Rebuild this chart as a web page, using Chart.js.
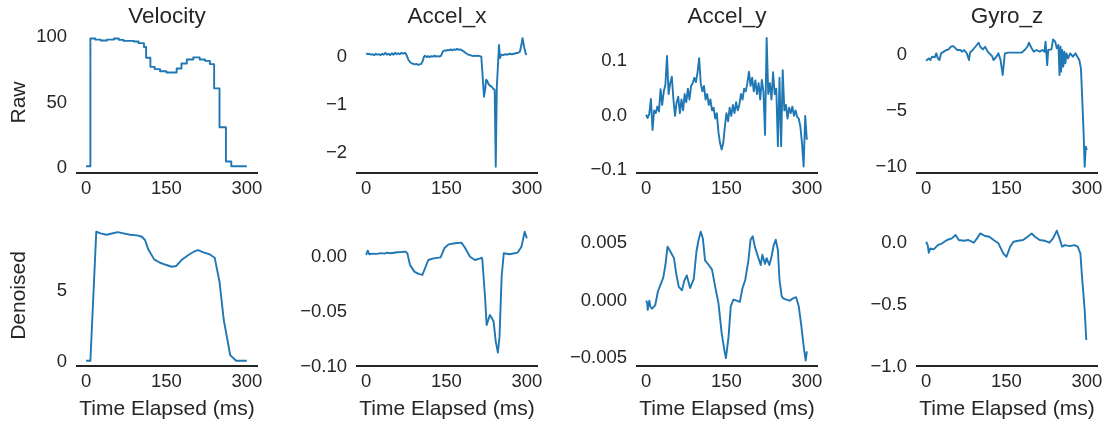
<!DOCTYPE html>
<html><head><meta charset="utf-8">
<script src="https://cdn.jsdelivr.net/npm/chart.js@4.4.0/dist/chart.umd.min.js"></script>
<style>
html,body{margin:0;padding:0;background:#fff;overflow:hidden;width:1110px;height:426px;position:relative;}
canvas{position:absolute;}
</style></head><body>
<script>
// ---- text ----
const columnTitles = ['Velocity', 'Accel_x', 'Accel_y', 'Gyro_z'];
const rowLabels = ['Raw', 'Denoised'];
const xAxisLabel = 'Time Elapsed (ms)';

// ---- x ticks (shared) ----
const xTickValues = [0, 150, 300];
const xTickLabels = ['0', '150', '300'];

// ---- y ticks per panel ----
const velocityRawTicks = [0, 50, 100];
const velocityRawTickLabels = ['0', '50', '100'];
const accelXRawTicks = [-2, -1, 0];
const accelXRawTickLabels = ['\u22122', '\u22121', '0'];
const accelYRawTicks = [-0.1, 0, 0.1];
const accelYRawTickLabels = ['\u22120.1', '0.0', '0.1'];
const gyroRawTicks = [-10, -5, 0];
const gyroRawTickLabels = ['\u221210', '\u22125', '0'];
const velocityDenoisedTicks = [0, 5];
const velocityDenoisedTickLabels = ['0', '5'];
const accelXDenoisedTicks = [-0.10, -0.05, 0];
const accelXDenoisedTickLabels = ['\u22120.10', '\u22120.05', '0.00'];
const accelYDenoisedTicks = [-0.005, 0, 0.005];
const accelYDenoisedTickLabels = ['\u22120.005', '0.000', '0.005'];
const gyroDenoisedTicks = [-1, -0.5, 0];
const gyroDenoisedTickLabels = ['\u22121.0', '\u22120.5', '0.0'];

// ---- series ----
const velocityRawTime = [0, 8, 17, 27, 39, 52, 61, 70, 89, 98, 108, 112, 120, 128, 138, 150, 169, 178, 188, 200, 212, 222, 231, 239, 249, 261, 271, 300];
const velocityRawValues = [1.5, 99, 98.2, 97.5, 98.2, 99, 98, 97.2, 96.8, 95.5, 92.6, 84.3, 77.4, 75.7, 74.1, 73.1, 76.2, 80, 83, 84.6, 83, 82, 79.5, 61, 31.3, 5.2, 1.5, 1.5];

const velocityDenoisedTime = [0, 8, 19, 27, 38, 48, 59, 70, 82, 95, 104, 110, 116, 127, 138, 150, 160, 168, 178, 191, 201, 209, 219, 231, 240, 249, 257, 269, 280, 300];
const velocityDenoisedValues = [0.07, 0.07, 9.2, 9.08, 8.98, 9.07, 9.17, 9.08, 8.98, 8.94, 8.84, 8.61, 7.95, 7.24, 7.0, 6.84, 6.72, 6.77, 7.19, 7.55, 7.78, 7.9, 7.74, 7.59, 7.36, 5.66, 2.95, 0.47, 0.07, 0.07];

const accelXRawTime = [0,3,6,9,12,15,18,21,24,27,30,33,36,39,42,45,48,51,54,57,60,63,66,69,73,76,79,82,85,88,91,94,97,100,103,106,108,110,113,116,119,122,125,128,131,134,137,140,143,146,149,152,155,158,161,164,167,170,173,176,179,182,185,188,191,194,197,200,203,206,209,212,215,217,220,222,224,226,228,231,234,237,240,242,244,246,248,250,252,256,260,264,268,272,276,280,284,287,290,292,295,298,300];
const accelXRawValues = [0.07,0.05,0.06,0.04,0.05,0.03,0.06,0.04,0.05,0.03,0.06,0.04,0.08,0.04,0.06,0.03,0.07,0.04,0.08,0.05,0.07,0.05,0.08,0.06,0.08,0.02,-0.07,-0.11,-0.14,-0.15,-0.16,-0.15,-0.17,-0.16,-0.15,-0.08,0.0,0.02,-0.01,0.01,-0.01,0.01,0.0,0.02,0.0,0.01,0.0,0.02,0.1,0.13,0.12,0.14,0.13,0.15,0.13,0.15,0.14,0.16,0.14,0.15,0.13,0.11,0.08,0.06,0.04,0.03,0.02,0.01,0.02,0.01,0.02,0.01,0.0,-0.31,-0.83,-0.7,-0.48,-0.5,-0.56,-0.6,-0.62,-0.66,-0.69,-2.28,-0.62,-0.21,0.24,-0.03,0.04,0.03,0.05,0.04,0.06,0.05,0.06,0.07,0.08,0.10,0.25,0.38,0.2,0.06,0.04];

const accelXDenoisedTime = [0,3,6,12,20,28,35,39,45,52,58,66,73,77,82,90,98,105,110,116,126,139,146,154,166,178,184,194,203,213,216,217,222,225,228,231,235,238,242,246,249,253,257,268,283,290,296,300];
const accelXDenoisedValues = [0.0015,0.0055,0.0022,0.0028,0.0025,0.0032,0.0028,0.0037,0.0031,0.0036,0.0040,0.0042,0.0046,0.0031,-0.0075,-0.0136,-0.0157,-0.0166,-0.0106,-0.0030,-0.0015,-0.0006,0.0076,0.0112,0.0122,0.0128,0.0085,0.0,-0.003,-0.0015,-0.0009,-0.003,-0.0364,-0.0621,-0.0575,-0.0530,-0.0560,-0.0590,-0.0772,-0.0872,-0.0727,-0.0182,0.0031,0.0022,0.0037,0.0091,0.0228,0.0167];

const accelYRawTime = [0,3,6,9,12,15,18,21,24,27,30,33,36,39,42,45,48,51,54,57,60,63,66,69,72,75,78,81,84,87,90,93,96,99,102,105,108,111,114,117,120,123,126,129,132,135,138,141,144,147,150,153,156,159,162,165,168,171,174,177,180,183,186,189,192,195,198,201,204,207,210,213,216,219,222,225,228,231,234,237,240,243,246,249,252,255,258,261,264,267,270,273,276,279,282,285,288,291,294,297,300];
const accelYRawValues = [0.002,-0.004,0.004,0.031,-0.026,0.010,0.005,0.017,0.008,0.049,
  0.020,0.045,0.057,0.110,0.040,0.060,0.072,0.030,0.000,0.025,
  0.035,0.005,0.030,0.010,0.040,0.025,0.050,0.030,0.055,0.060,
  0.070,0.062,0.080,0.106,0.060,0.045,0.055,0.030,0.040,0.020,
  0.030,0.010,0.015,-0.005,0.005,-0.030,-0.050,-0.062,-0.050,-0.020,
  0.005,-0.010,0.015,0.000,0.020,0.005,0.025,0.010,0.020,0.040,
  0.030,0.050,0.045,0.060,0.081,0.055,0.070,0.045,0.065,0.040,
  0.060,0.030,0.066,0.045,-0.035,0.143,0.040,0.060,0.030,0.080,
  0.040,0.050,-0.056,0.070,-0.056,0.084,0.010,0.020,-0.005,0.015,
  0.005,0.017,0.000,0.010,-0.002,-0.005,-0.020,-0.050,-0.093,0.000,
  -0.044];

const accelYDenoisedTime = [0,2,3,6,8,11,17,22,27,32,36,40,45,52,56,61,67,71,76,82,89,94,98,102,106,110,117,123,129,135,141,146,149,154,158,163,169,175,180,185,191,195,199,203,209,214,217,222,225,230,234,238,242,246,249,253,256,262,268,274,280,285,290,295,298,300];
const accelYDenoisedValues = [0,-0.0002,-0.0008,0,-0.0005,-0.0007,-0.0004,0.0008,0.0014,0.0020,0.0031,0.0047,0.0043,0.0037,0.0024,0.0012,0.0009,0.0017,0.0022,0.0011,0.0019,0.0043,0.0053,0.0060,0.0054,0.0035,0.0031,0.0027,0.0012,-0.0002,-0.0028,-0.0043,-0.0050,-0.0031,-0.0005,0.0001,0,-0.0001,0.0011,0.0018,0.0035,0.0053,0.0056,0.0047,0.0038,0.0031,0.0040,0.0032,0.0037,0.0031,0.0038,0.0048,0.0053,0.0044,0.0018,0.0004,0.0002,0.0001,0,0.0002,0.0003,-0.0005,-0.0023,-0.0043,-0.0052,-0.0044];

const gyroRawTime = [0,5,8,11,16,19,22,25,28,33,38,42,46,51,55,58,64,67,71,76,80,82,87,92,98,101,106,110,115,118,123,126,131,135,139,143,147,153,178,184,189,192,197,201,206,212,217,221,223,226,228,234,237,241,244,247,249,251,252,254,256,258,260,262,265,269,274,279,283,286,289,291,294,296,298,300];
const gyroRawValues = [-0.51,-0.30,-0.45,-0.15,-0.21,0.15,-0.30,-0.45,0.15,0.30,0.45,0.51,0.74,0.80,0.60,0.45,0.45,0.30,0.45,0.15,-0.45,0.21,0.45,0.74,1.1,0.74,0.51,0.74,0.30,0.15,-0.09,-0.45,-0.15,0.15,-0.45,-1.79,0.15,0.21,0.21,0.45,0.74,1.1,0.60,0.30,0.45,0.30,0.45,0.30,1.19,-0.90,0.45,0.51,1.40,1.19,0.60,0.90,-1.79,0.74,-1.49,0.45,-1.04,0.30,-0.75,0.15,-0.30,0.15,-0.15,0.15,-0.21,-0.45,-1.19,-3.4,-7.0,-10.0,-8.2,-8.5];

const gyroDenoisedTime = [0,3,5,8,14,22,30,39,48,55,61,70,79,89,95,101,110,118,126,135,144,150,157,163,172,181,188,197,203,212,221,230,237,244,249,254,259,268,277,283,288,291,296,299];
const gyroDenoisedValues = [0.013,-0.014,-0.076,-0.041,-0.049,-0.014,0,0.027,0.040,0.067,0.027,0.021,0.027,0.005,0.040,0.080,0.059,0.053,0.027,0,-0.081,-0.108,-0.027,0.013,0.021,0.027,0.048,0.080,0.053,0.027,0.021,0.005,0.040,0.102,0.040,-0.027,-0.014,-0.022,-0.014,-0.027,-0.081,-0.269,-0.538,-0.780];

// ---- styling / layout ----
const FONT = "'Liberation Sans', Arial, Helvetica, sans-serif";
const INK = '#262626';
const LINE = '#1f77b4';
const PLOT_W = 180, PLOT_H = 141;
const LEFT_SPACE = 77, TOP_SPACE = 32;
const X_MIN = -17, X_MAX = 319;

const panels = [
  {row:0, col:0, t:velocityRawTime, v:velocityRawValues, ticks:velocityRawTicks, labels:velocityRawTickLabels, ymin:-3.6, ymax:104.0, stepped:true},
  {row:0, col:1, t:accelXRawTime, v:accelXRawValues, ticks:accelXRawTicks, labels:accelXRawTickLabels, ymin:-2.41, ymax:0.51},
  {row:0, col:2, t:accelYRawTime, v:accelYRawValues, ticks:accelYRawTicks, labels:accelYRawTickLabels, ymin:-0.105, ymax:0.154},
  {row:0, col:3, t:gyroRawTime, v:gyroRawValues, ticks:gyroRawTicks, labels:gyroRawTickLabels, ymin:-10.56, ymax:2.06},
  {row:1, col:0, t:velocityDenoisedTime, v:velocityDenoisedValues, ticks:velocityDenoisedTicks, labels:velocityDenoisedTickLabels, ymin:-0.30, ymax:9.67},
  {row:1, col:1, t:accelXDenoisedTime, v:accelXDenoisedValues, ticks:accelXDenoisedTicks, labels:accelXDenoisedTickLabels, ymin:-0.0994, ymax:0.0288},
  {row:1, col:2, t:accelYDenoisedTime, v:accelYDenoisedValues, ticks:accelYDenoisedTicks, labels:accelYDenoisedTickLabels, ymin:-0.00568, ymax:0.00658},
  {row:1, col:3, t:gyroDenoisedTime, v:gyroDenoisedValues, ticks:gyroDenoisedTicks, labels:gyroDenoisedTickLabels, ymin:-0.99, ymax:0.148}
];

const panelText = {
  id: 'panelText',
  afterDraw(chart, args, opts) {
    const ctx = chart.ctx, a = chart.chartArea;
    ctx.save();
    ctx.fillStyle = INK;
    ctx.textBaseline = 'alphabetic';
    if (opts.title) {
      ctx.font = '22.5px ' + FONT;
      ctx.textAlign = 'center';
      ctx.fillText(opts.title, (a.left + a.right) / 2, a.top - 9);
    }
    if (opts.xlabel) {
      ctx.font = '21px ' + FONT;
      ctx.textAlign = 'center';
      ctx.fillText(opts.xlabel, (a.left + a.right) / 2, a.bottom + 49);
    }
    if (opts.ylabel) {
      ctx.font = '21px ' + FONT;
      ctx.textAlign = 'center';
      ctx.translate(a.left - 52, (a.top + a.bottom) / 2);
      ctx.rotate(-Math.PI / 2);
      ctx.fillText(opts.ylabel, 0, 0);
    }
    ctx.restore();
  }
};

function makePanel(p) {
  if (p.t.length !== p.v.length) throw new Error('length mismatch in panel ' + p.row + ',' + p.col + ': ' + p.t.length + ' vs ' + p.v.length);
  const plotLeft = 77 + 280 * p.col;
  const plotTop = p.row === 0 ? 32 : 225;
  const cx = plotLeft - LEFT_SPACE, cy = plotTop - TOP_SPACE;
  const W = p.col === 3 ? 1110 - cx : 277;
  const H = p.row === 0 ? 228 : 426 - cy;
  const canvas = document.createElement('canvas');
  canvas.width = W; canvas.height = H;
  canvas.style.left = cx + 'px'; canvas.style.top = cy + 'px';
  canvas.style.width = W + 'px'; canvas.style.height = H + 'px';
  document.body.appendChild(canvas);
  new Chart(canvas, {
    type: 'line',
    data: {
      datasets: [{
        data: p.t.map((x, i) => ({x: x, y: p.v[i]})),
        borderColor: LINE, borderWidth: 1.9, pointRadius: 0, tension: 0,
        stepped: p.stepped ? 'before' : false, fill: false,
        borderJoinStyle: 'round', borderCapStyle: 'butt'
      }]
    },
    options: {
      responsive: false, animation: false, devicePixelRatio: 1,
      layout: {padding: {left: 0, top: TOP_SPACE, right: W - LEFT_SPACE - PLOT_W, bottom: 0}},
      plugins: {
        legend: {display: false}, tooltip: {enabled: false},
        panelText: {
          title: p.row === 0 ? columnTitles[p.col] : null,
          ylabel: p.col === 0 ? rowLabels[p.row] : null,
          xlabel: p.row === 1 ? xAxisLabel : null
        }
      },
      scales: {
        x: {
          type: 'linear', min: X_MIN, max: X_MAX,
          grid: {display: false, drawTicks: false},
          border: {display: true, color: INK, width: 2},
          afterBuildTicks: s => { s.ticks = xTickValues.map(v => ({value: v})); },
          ticks: {
            callback: (v, i) => xTickLabels[i],
            color: INK, font: {family: FONT, size: 18.5}, padding: 5,
            maxRotation: 0, minRotation: 0, autoSkip: false
          },
          afterFit: s => { s.height = H - TOP_SPACE - PLOT_H; }
        },
        y: {
          type: 'linear', min: p.ymin, max: p.ymax,
          grid: {display: false, drawTicks: false},
          border: {display: false},
          afterBuildTicks: s => { s.ticks = p.ticks.map(v => ({value: v})); },
          ticks: {
            callback: (v, i) => p.labels[i],
            color: INK, font: {family: FONT, size: 18.5}, padding: 10, autoSkip: false
          },
          afterFit: s => { s.width = LEFT_SPACE; }
        }
      }
    },
    plugins: [panelText]
  });
}

panels.forEach(makePanel);
</script>
</body></html>
